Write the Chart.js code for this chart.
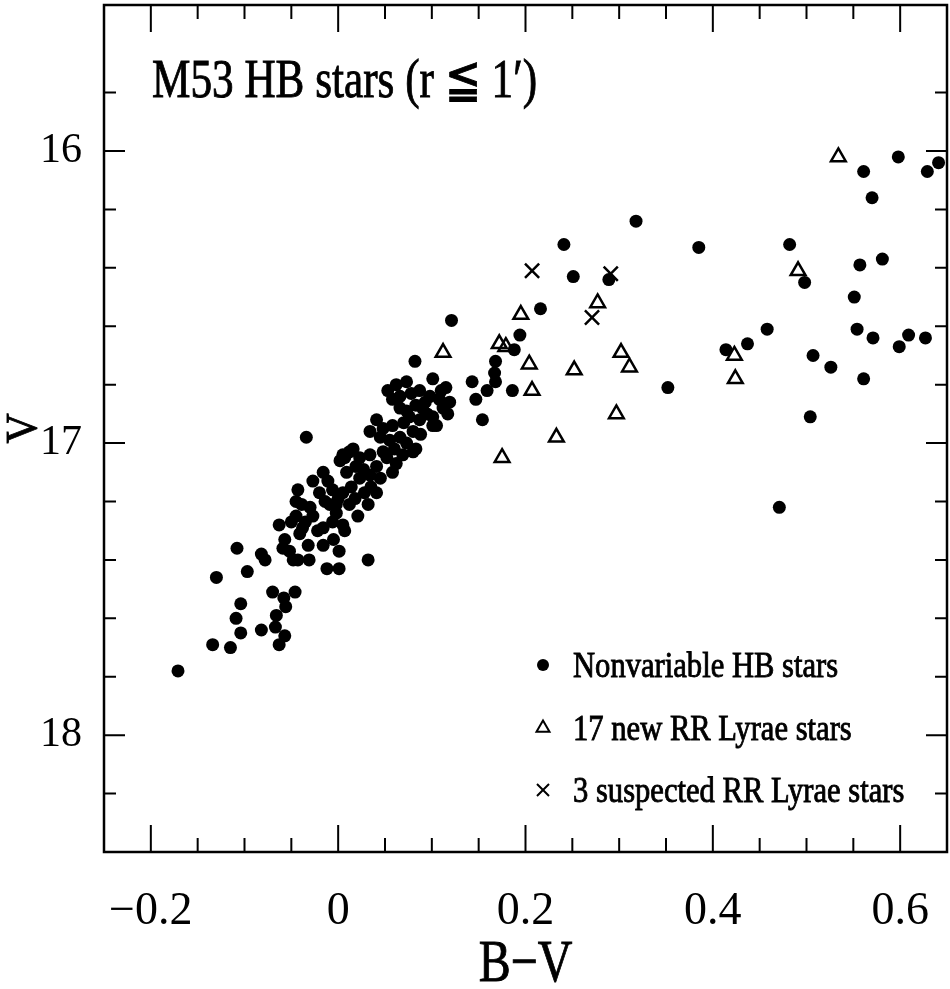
<!DOCTYPE html>
<html>
<head>
<meta charset="utf-8">
<title>M53 HB stars</title>
<script src="https://cdn.jsdelivr.net/npm/chart.js@4/dist/chart.umd.min.js"></script>
<style>
  html, body { margin: 0; padding: 0; background: #fff; }
  canvas { display: block; }
</style>
</head>
<body>
<canvas id="cmd" width="950" height="989"></canvas>
<script>
// ======================
// M53 HB stars (r <= 1'), V vs B-V
// ======================

// ✅ nonvariable HB stars
const hbColor = [
  -0.171, -0.134, -0.115, -0.130, -0.108, -0.097, -0.104, -0.109, -0.104, -0.082,
  -0.078, -0.082, -0.067, -0.066, -0.063, -0.057, -0.070, -0.058, -0.056, -0.046,
  -0.063, -0.050, -0.041, -0.057, -0.059, -0.052, -0.048, -0.043, -0.032, -0.031,
  -0.034, -0.027, -0.043, -0.045, -0.039, -0.020, -0.014, -0.006, -0.002, -0.009,
  -0.027, -0.016, -0.006, 0.005, -0.016, 0.001, 0.001, -0.012, -0.016, -0.011,
  0.002, 0.012, 0.019, 0.009, 0.007, 0.014, 0.023, 0.021, 0.034, 0.035,
  0.032, 0.041, 0.005, 0.012, 0.032, 0.007, -0.038, -0.002, 0.016, 0.023,
  0.034, 0.041, 0.048, 0.062, 0.069, 0.058, 0.005, 0.080, 0.041, 0.034,
  0.048, 0.058, 0.055, 0.066, 0.073, 0.080, 0.083, 0.066, 0.076, 0.090,
  0.101, 0.083, 0.073, 0.087, 0.119, 0.112, 0.101, 0.105, 0.053, 0.073,
  0.066, 0.058, 0.087, 0.101, 0.110, 0.098, 0.115, 0.117, 0.082, 0.121,
  0.143, 0.159, 0.147, 0.154, 0.168, 0.167, 0.168, 0.186, 0.188, 0.194,
  0.216, 0.241, 0.251, 0.289, 0.318, 0.352, 0.385, 0.482, 0.498, 0.458,
  0.437, 0.414, 0.507, 0.526, 0.561, 0.504, 0.471, 0.557, 0.581, 0.551,
  0.554, 0.571, 0.599, 0.609, 0.627, 0.598, 0.629, 0.641, 0.561, 0.570,
  0.062, 0.078, 0.093, 0.108, 0.095, 0.070, 0.088, 0.045, 0.060, 0.027,
  0.045, 0.028, 0.018, 0.052, 0.000, -0.030, -0.022, -0.035, -0.005, -0.045
];
const hbMag = [
  17.78, 17.69, 17.70, 17.46, 17.36, 17.44, 17.55, 17.60, 17.65, 17.38,
  17.40, 17.64, 17.63, 17.59, 17.69, 17.66, 17.51, 17.53, 17.56, 17.51,
  17.28, 17.27, 17.31, 17.33, 17.36, 17.37, 17.40, 17.40, 17.35, 17.40,
  16.98, 17.13, 17.16, 17.20, 17.21, 17.17, 17.20, 17.16, 17.21, 17.21,
  17.25, 17.29, 17.27, 17.28, 17.35, 17.37, 17.43, 17.43, 17.10, 17.13,
  17.06, 17.03, 17.08, 17.10, 17.05, 17.15, 17.12, 17.25, 17.11, 17.15,
  17.21, 17.17, 17.17, 17.21, 17.40, 17.30, 17.29, 17.24, 17.02, 17.05,
  17.04, 17.08, 17.03, 17.07, 17.04, 17.10, 17.04, 17.03, 16.92, 16.96,
  16.95, 16.94, 16.99, 16.98, 17.00, 16.96, 17.02, 16.88, 16.91, 16.88,
  16.94, 16.87, 16.89, 16.92, 16.86, 16.88, 16.91, 16.94, 16.82, 16.79,
  16.84, 16.85, 16.82, 16.78, 16.82, 16.84, 16.81, 16.90, 16.72, 16.58,
  16.79, 16.82, 16.85, 16.92, 16.72, 16.76, 16.79, 16.82, 16.68, 16.63,
  16.54, 16.32, 16.43, 16.44, 16.24, 16.81, 16.33, 16.32, 16.45, 16.61,
  16.66, 16.68, 16.70, 16.74, 16.78, 16.91, 17.22, 16.39, 16.37, 16.50,
  16.61, 16.64, 16.67, 16.63, 16.64, 16.02, 16.07, 16.04, 16.07, 16.16,
  16.80, 16.83, 16.86, 16.85, 16.90, 16.93, 16.97, 16.98, 17.02, 17.09,
  17.12, 17.17, 17.19, 17.05, 17.19, 17.22, 17.30, 17.27, 17.33, 17.25
];

// ✅ 17 new RR Lyrae stars
const rrColor = [0.112, 0.195, 0.172, 0.179, 0.204, 0.252, 0.277, 0.302, 0.311,
  0.207, 0.297, 0.233, 0.175, 0.534, 0.491, 0.423, 0.424];
const rrMag = [16.69, 16.56, 16.66, 16.67, 16.73, 16.75, 16.52, 16.69, 16.74,
  16.82, 16.90, 16.98, 17.05, 16.02, 16.41, 16.70, 16.78];

// ✅ 3 suspected RR Lyrae stars
const suspColor = [0.207, 0.291, 0.271];
const suspMag = [16.41, 16.42, 16.57];

// ✅ axes
const xTickValues = [-0.2, 0, 0.2, 0.4, 0.6];
const xTickLabels = ["\u22120.2", "0", "0.2", "0.4", "0.6"];
const yTickValues = [16, 17, 18];
const yTickLabels = ["16", "17", "18"];

const legendLabels = ["Nonvariable HB stars", "17 new RR Lyrae stars", "3 suspected RR Lyrae stars"];

const FONT = '"Liberation Serif", "Times New Roman", serif';

const toPoints = (xs, ys) => xs.map((x, i) => ({ x: x, y: ys[i] }));
const onStep = (v, step) => Math.abs(v / step - Math.round(v / step)) < 1e-6;
const labelFor = (values, labels) => v => {
  const i = values.findIndex(t => Math.abs(t - v) < 1e-6);
  return i < 0 ? "" : labels[i];
};
// fixed box size, no extra room for the end labels
const fixBox = (w, h) => s => {
  if (w) s.width = w;
  if (h) s.height = h;
  s.paddingLeft = s.paddingRight = s.paddingTop = s.paddingBottom = 0;
};

// text squeezed sideways, like the narrow plotter font of the original
function squeezed(ctx, text, x, y, size, sx, align) {
  ctx.save();
  ctx.font = size + "px " + FONT;
  ctx.textBaseline = "alphabetic";
  const w = ctx.measureText(text).width * sx;
  let left = x;
  if (align === "center") left = x - w / 2;
  ctx.translate(left, y);
  ctx.scale(sx, 1);
  ctx.textAlign = "left";
  ctx.lineWidth = 0.9;
  ctx.strokeStyle = "#000";
  ctx.fillText(text, 0, 0);
  ctx.strokeText(text, 0, 0);
  ctx.restore();
}

// ✅ frame, inward ticks, titles, legend
const framePlugin = {
  id: "frame",
  afterDraw(chart) {
    const { ctx, chartArea: a } = chart;
    const xs = chart.scales.x;
    const ys = chart.scales.y;
    ctx.save();
    ctx.strokeStyle = "#000";
    ctx.fillStyle = "#000";
    ctx.lineWidth = 2.5;
    ctx.strokeRect(a.left, a.top, a.right - a.left, a.bottom - a.top);

    ctx.lineWidth = 2;
    ctx.beginPath();
    xs.ticks.forEach(t => {
      if (!onStep(t.value, 0.05)) return;
      const px = xs.getPixelForValue(t.value);
      if (px < a.left + 2 || px > a.right - 2) return;
      const len = onStep(t.value, 0.2) ? 27 : 14;
      ctx.moveTo(px, a.top); ctx.lineTo(px, a.top + len);
      ctx.moveTo(px, a.bottom); ctx.lineTo(px, a.bottom - len);
    });
    ys.ticks.forEach(t => {
      if (!onStep(t.value, 0.2)) return;
      const py = ys.getPixelForValue(t.value);
      if (py < a.top + 2 || py > a.bottom - 2) return;
      const len = onStep(t.value, 1) ? 21 : 12;
      ctx.moveTo(a.left, py); ctx.lineTo(a.left + len, py);
      ctx.moveTo(a.right, py); ctx.lineTo(a.right - len, py);
    });
    ctx.stroke();

    // title inside the frame
    squeezed(ctx, "M53 HB stars (r \u2266 1\u2032)", a.left + 48, 97, 54, 0.8, "left");

    // axis titles
    squeezed(ctx, "B\u2212V", (a.left + a.right) / 2, 981, 60, 0.8, "center");
    ctx.save();
    ctx.translate(21, (a.top + a.bottom) / 2);
    ctx.rotate(-Math.PI / 2);
    squeezed(ctx, "V", 0, 15, 44, 0.95, "center");
    ctx.restore();

    // legend
    const rows = [665, 728, 790];
    const marks = [
      { pointStyle: "circle", radius: 6, borderWidth: 0, fill: "#000" },
      { pointStyle: "triangle", radius: 7.5, borderWidth: 2, fill: "rgba(0,0,0,0)" },
      { pointStyle: "crossRot", radius: 8.5, borderWidth: 2, fill: "rgba(0,0,0,0)" }
    ];
    rows.forEach((ry, i) => {
      ctx.fillStyle = marks[i].fill;
      ctx.strokeStyle = "#000";
      ctx.lineWidth = marks[i].borderWidth;
      Chart.helpers.drawPoint(ctx, { pointStyle: marks[i].pointStyle, radius: marks[i].radius,
        borderWidth: marks[i].borderWidth, rotation: 0 }, 543, ry);
      ctx.fillStyle = "#000";
      squeezed(ctx, legendLabels[i], 573, ry + 12, 36, 0.85, "left");
    });
    ctx.restore();
  }
};

new Chart(document.getElementById("cmd"), {
  type: "scatter",
  data: {
    datasets: [
      {
        label: legendLabels[0],
        data: toPoints(hbColor, hbMag),
        pointStyle: "circle",
        pointRadius: 6.5,
        pointBackgroundColor: "#000",
        pointBorderColor: "#000",
        pointBorderWidth: 0
      },
      {
        label: legendLabels[1],
        data: toPoints(rrColor, rrMag),
        pointStyle: "triangle",
        pointRadius: 8.5,
        pointBackgroundColor: "rgba(0,0,0,0)",
        pointBorderColor: "#000",
        pointBorderWidth: 2.5
      },
      {
        label: legendLabels[2],
        data: toPoints(suspColor, suspMag),
        pointStyle: "crossRot",
        pointRadius: 10,
        pointBackgroundColor: "rgba(0,0,0,0)",
        pointBorderColor: "#000",
        pointBorderWidth: 2.5
      }
    ]
  },
  options: {
    responsive: false,
    animation: false,
    devicePixelRatio: 1,
    layout: { autoPadding: false, padding: { top: 5, right: 3, left: 0, bottom: 0 } },
    plugins: { legend: { display: false }, tooltip: { enabled: false } },
    scales: {
      x: {
        type: "linear",
        min: -0.25,
        max: 0.65,
        afterFit: fixBox(0, 137),
        grid: { display: false, drawTicks: false },
        border: { display: false },
        ticks: {
          stepSize: 0.05,
          maxTicksLimit: 100,
          autoSkip: false,
          maxRotation: 0,
          padding: 32,
          color: "#000",
          font: { family: FONT, size: 46 },
          callback: labelFor(xTickValues, xTickLabels)
        }
      },
      y: {
        type: "linear",
        reverse: true,
        min: 15.5,
        max: 18.4,
        afterFit: fixBox(104, 0),
        grid: { display: false, drawTicks: false },
        border: { display: false },
        ticks: {
          stepSize: 0.2,
          maxTicksLimit: 100,
          autoSkip: false,
          padding: 22,
          color: "#000",
          font: { family: FONT, size: 42 },
          callback: labelFor(yTickValues, yTickLabels)
        }
      }
    }
  },
  plugins: [framePlugin]
});
</script>
</body>
</html>
